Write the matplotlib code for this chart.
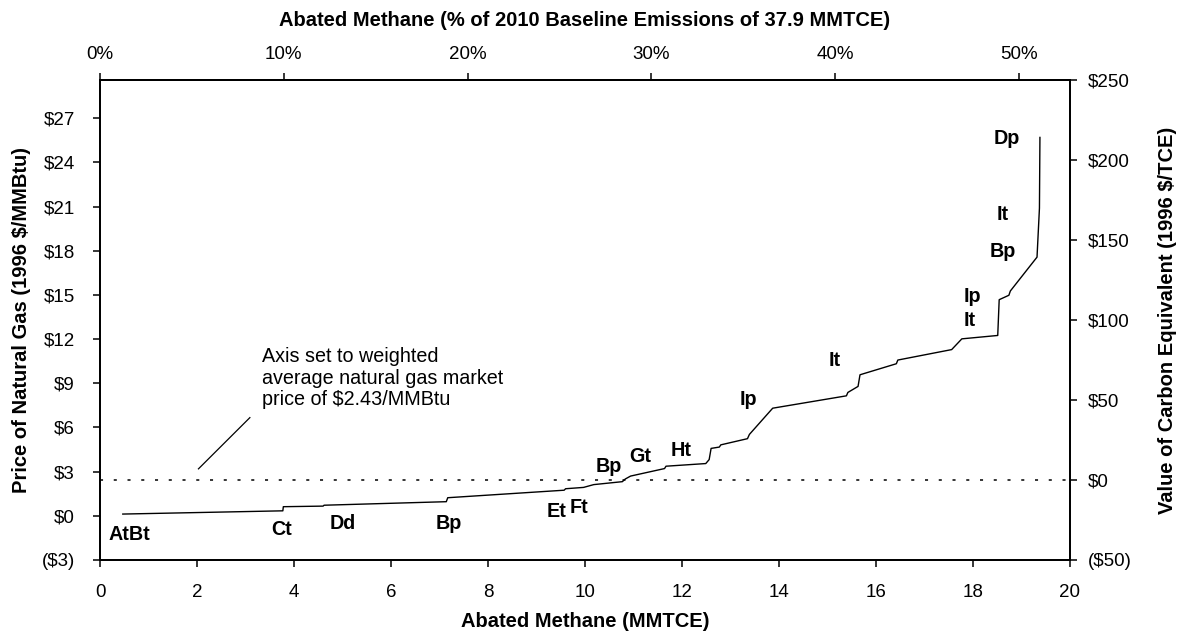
import matplotlib
matplotlib.use("Agg")
import matplotlib.pyplot as plt
from matplotlib.ticker import FuncFormatter
from matplotlib.transforms import ScaledTranslation

plt.rcParams["font.family"] = ["Liberation Sans", "DejaVu Sans"]

# marginal abatement curve for methane (MMTCE vs $/MMBtu)
abated = [0.47, 3.77, 3.78, 4.60, 4.62, 7.14, 7.17, 9.57, 9.60, 9.97, 10.18,
          10.77, 10.83, 10.94, 11.64, 11.67, 12.49, 12.56, 12.60, 12.77, 12.80,
          13.35, 13.39, 13.87, 15.39, 15.42, 15.63, 15.67, 16.42, 16.45, 17.56,
          17.77, 18.51, 18.54, 18.74, 18.77, 19.32, 19.37, 19.38]
price = [0.12, 0.34, 0.62, 0.66, 0.72, 0.96, 1.23, 1.74, 1.84, 1.93, 2.12,
         2.32, 2.50, 2.70, 3.21, 3.37, 3.55, 3.82, 4.58, 4.67, 4.82,
         5.24, 5.53, 7.31, 8.15, 8.38, 8.79, 9.58, 10.33, 10.58, 11.29,
         12.02, 12.25, 14.68, 14.98, 15.27, 17.57, 20.9, 25.7]

# option codes written next to the curve
option_names = ["AtBt", "Ct", "Dd", "Bp", "Et", "Ft", "Bp", "Gt", "Ht", "Ip",
                "It", "It", "Ip", "Bp", "It", "Dp"]
option_x = [0.6, 3.75, 5.0, 7.2, 9.42, 9.87, 10.48, 11.14, 11.98, 13.37,
            15.14, 17.93, 17.99, 18.61, 18.62, 18.69]
option_y = [-1.3, -0.96, -0.55, -0.5, 0.3, 0.55, 3.37, 4.0, 4.44, 7.92,
            10.54, 13.27, 14.87, 17.98, 20.44, 25.6]

market_price = 2.43
baseline = 37.9
gas_ticks = [-3, 0, 3, 6, 9, 12, 15, 18, 21, 24, 27]
carbon_ticks = [-50, 0, 50, 100, 150, 200, 250]
pct_ticks = [0, 10, 20, 30, 40, 50]


def money(v, pos=None):
    return f"${v:.0f}" if v >= 0 else f"(${-v:.0f})"


W, H = 1182, 637
fig = plt.figure(figsize=(W / 100, H / 100), dpi=100)
ax = fig.add_axes([100 / W, 1 - 560 / H, 970 / W, 480 / H])

ax.plot(abated, price, color="black", lw=1.0)
ax.axhline(market_price, color="black", lw=1.1, linestyle=(0, (2, 7)))

# note pointing at the dashed line
ax.plot([2.03, 3.09], [3.19, 6.67], color="black", lw=0.9)
ax.text(3.35, 11.45, "Axis set to weighted\naverage natural gas market\nprice of $2.43/MMBtu",
        fontsize=14.2, va="top", ha="left", linespacing=1.16)

for name, x, y in zip(option_names, option_x, option_y):
    ax.text(x, y, name, fontsize=14.2, fontweight="bold", ha="center", va="center")

ax.set_xlim(0, 20)
ax.set_xticks(range(0, 21, 2))
ax.set_ylim(-3, 29.6)
ax.set_yticks(gas_ticks)
ax.yaxis.set_major_formatter(FuncFormatter(money))
ax.set_xlabel("Abated Methane (MMTCE)", fontsize=14.5, fontweight="bold", labelpad=8)
ax.set_ylabel("Price of Natural Gas (1996 $/MMBtu)", fontsize=14.5, fontweight="bold", labelpad=7.5)

ax2 = ax.twinx()
ax2.set_ylim(-50, 250)
ax2.set_yticks(carbon_ticks)
ax2.yaxis.set_major_formatter(FuncFormatter(money))
ax2.set_ylabel("Value of Carbon Equivalent (1996 $/TCE)", fontsize=14.5, fontweight="bold", labelpad=19)

top = ax.secondary_xaxis("top", functions=(lambda x: x / baseline * 100, lambda p: p * baseline / 100))
top.set_xticks(pct_ticks)
top.xaxis.set_major_formatter(FuncFormatter(lambda v, p: f"{v:.0f}%"))
top.set_xlabel("Abated Methane (% of 2010 Baseline Emissions of 37.9 MMTCE)",
               fontsize=14.5, fontweight="bold", labelpad=14.5)

for a in (ax, ax2, top):
    a.tick_params(direction="out", length=5, width=1.1, labelsize=13.5)
ax.tick_params(axis="y", pad=13)
ax.tick_params(axis="x", pad=12)
ax2.tick_params(axis="y", pad=8)
top.tick_params(axis="x", pad=7)

# negative label: closing bracket hangs past the other labels
for t in ax.yaxis.get_major_ticks():
    if t.get_loc() < 0:
        t.label1.set_transform(t.label1.get_transform() + ScaledTranslation(6 / 100, 0, fig.dpi_scale_trans))

for sp in ax.spines.values():
    sp.set_linewidth(1.3)
for sp in ax2.spines.values():
    sp.set_linewidth(1.3)
top.spines["top"].set_linewidth(1.3)

fig.savefig("out.png", dpi=100)
